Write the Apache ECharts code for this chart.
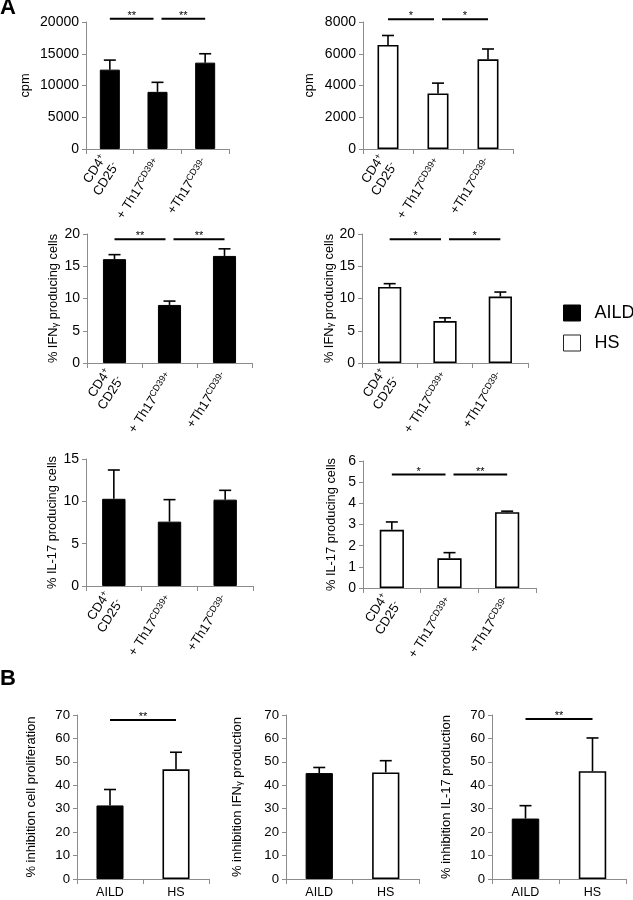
<!DOCTYPE html>
<html>
<head>
<meta charset="utf-8">
<script src="https://cdn.jsdelivr.net/npm/echarts@6/dist/echarts.min.js"></script>
<style>
  html, body { margin: 0; padding: 0; background: #fff; }
  #chart { width: 633px; height: 900px; }
</style>
</head>
<body>
<div id="chart"></div>
<script>
// ---------- data ----------
const catsA = ['CD4+ CD25-', '+ Th17 CD39+', '+Th17 CD39-'];
const catLabelsA = ['{n|CD4}{s|+}\n{n|CD25}{s|-}', '{n|+ Th17}{s|CD39+}', '{n|+Th17}{s|CD39-}'];
const catsB = ['AILD', 'HS'];

const cpmAILD = [12500, 9000, 13600];
const cpmAILDsd = [1500, 1500, 1400];
const cpmHS = [6550, 3500, 5650];
const cpmHSsd = [600, 650, 650];
const ifnAILD = [16.1, 9.0, 16.6];
const ifnAILDsd = [0.7, 0.6, 1.1];
const ifnHS = [11.8, 6.5, 10.3];
const ifnHSsd = [0.5, 0.5, 0.7];
const il17AILD = [10.3, 7.6, 10.2];
const il17AILDsd = [3.4, 2.6, 1.1];
const il17HS = [2.75, 1.4, 3.58];
const il17HSsd = [0.37, 0.27, 0.05];
const inhProlif = [31.4, 46.8];
const inhProlifSd = [6.8, 7.3];
const inhIFN = [45.2, 45.5];
const inhIFNsd = [2.4, 5.0];
const inhIL17 = [25.8, 46.0];
const inhIL17sd = [5.5, 14.2];

// significance brackets: [fromIndex, toIndex, mark]
const sigCpmAILD = [[0, 1, '**'], [1, 2, '**']];
const sigCpmHS = [[0, 1, '*'], [1, 2, '*']];
const sigIfnAILD = [[0, 1, '**'], [1, 2, '**']];
const sigIfnHS = [[0, 1, '*'], [1, 2, '*']];
const sigIl17AILD = [];
const sigIl17HS = [[0, 1, '*'], [1, 2, '**']];
const sigInhProlif = [[0, 1, '**']];
const sigInhIFN = [];
const sigInhIL17 = [[0, 1, '**']];

// ---------- layout ----------
const FONT = '"Liberation Sans", Arial, Helvetica, sans-serif';
const AXIS_COLOR = '#8c8c8c';

const panels = [
  { g: [86, 22, 143, 127], kind: 'A', max: 20000, step: 5000, v: cpmAILD, sd: cpmAILDsd, grp: 'AILD', yname: 'cpm', gap: 54, sig: sigCpmAILD, sigLevel: 20520 },
  { g: [363, 22, 150, 127], kind: 'A', max: 8000, step: 2000, v: cpmHS, sd: cpmHSsd, grp: 'HS', yname: 'cpm', gap: 47, sig: sigCpmHS, sigLevel: 8170 },
  { g: [87, 234, 165, 129], kind: 'A', max: 20, step: 5, v: ifnAILD, sd: ifnAILDsd, grp: 'AILD', yname: '% IFN{g|γ} producing cells', gap: 27, sig: sigIfnAILD, sigLevel: 19.2 },
  { g: [362, 234, 166, 129], kind: 'A', max: 20, step: 5, v: ifnHS, sd: ifnHSsd, grp: 'HS', yname: '% IFN{g|γ} producing cells', gap: 26, sig: sigIfnHS, sigLevel: 19.2 },
  { g: [86, 459, 167, 127], kind: 'A', max: 15, step: 5, v: il17AILD, sd: il17AILDsd, grp: 'AILD', yname: '% IL-17 producing cells', gap: 27, sig: sigIl17AILD, sigLevel: 0 },
  { g: [363, 461, 173, 127], kind: 'A', max: 6, step: 1, v: il17HS, sd: il17HSsd, grp: 'HS', yname: '% IL-17 producing cells', gap: 25, sig: sigIl17HS, sigLevel: 5.36 },
  { g: [77, 715, 132, 164], kind: 'B', max: 70, step: 10, v: inhProlif, sd: inhProlifSd, yname: '% inhibition cell proliferation', gap: 39, sig: sigInhProlif, sigLevel: 67.9 },
  { g: [286, 715, 133, 164], kind: 'B', max: 70, step: 10, v: inhIFN, sd: inhIFNsd, yname: '% inhibition IFN{g|γ} production', gap: 42, sig: sigInhIFN, sigLevel: 0 },
  { g: [492, 715, 134, 164], kind: 'B', max: 70, step: 10, v: inhIL17, sd: inhIL17sd, yname: '% inhibition IL-17 production', gap: 39, sig: sigInhIL17, sigLevel: 68.3 }
];

const grids = [], xAxes = [], yAxes = [], series = [];

panels.forEach((p, i) => {
  grids.push({ left: p.g[0], top: p.g[1], width: p.g[2], height: p.g[3], containLabel: false });
  const isA = p.kind === 'A';
  xAxes.push({
    type: 'category', gridIndex: i, data: isA ? catsA : catsB,
    axisLine: { lineStyle: { color: AXIS_COLOR, width: 1 } },
    axisTick: { show: true, length: 5, lineStyle: { color: AXIS_COLOR } },
    axisLabel: isA ? {
      interval: 0, rotate: 57, margin: 11, color: '#000',
      formatter: (val, idx) => catLabelsA[idx],
      rich: {
        n: { fontSize: 13, fontFamily: FONT, color: '#000', lineHeight: 15 },
        s: { fontSize: 9, fontFamily: FONT, color: '#000', verticalAlign: 'top', lineHeight: 9 }
      }
    } : {
      interval: 0, margin: 7, color: '#000', fontSize: 12.5, fontFamily: FONT
    }
  });
  yAxes.push({
    type: 'value', gridIndex: i, min: 0, max: p.max, interval: p.step,
    splitLine: { show: false },
    axisLine: { show: true, lineStyle: { color: AXIS_COLOR, width: 1 } },
    axisTick: { show: true, length: 4, lineStyle: { color: AXIS_COLOR } },
    axisLabel: { color: '#000', fontSize: isA ? 14 : 13.2, fontFamily: FONT, margin: 7, formatter: v => String(v) },
    name: p.yname, nameLocation: 'middle', nameRotate: 90, nameGap: p.gap,
    nameTextStyle: {
      color: '#000', fontSize: isA ? 12.8 : 13, fontFamily: FONT,
      rich: { g: { fontSize: 9.5, fontFamily: FONT, color: '#000', verticalAlign: 'bottom', lineHeight: 13 } }
    }
  });

  // bars
  if (isA) {
    const black = p.grp === 'AILD';
    series.push({
      type: 'bar', name: p.grp, xAxisIndex: i, yAxisIndex: i, barWidth: '42%',
      data: p.v,
      itemStyle: { color: black ? '#000' : '#fff', borderColor: '#000', borderWidth: black ? 1 : 1.6 },
      emphasis: { disabled: true }
    });
  } else {
    series.push({
      type: 'bar', name: 'inhibition' + i, xAxisIndex: i, yAxisIndex: i, barWidth: '41%',
      data: p.v.map((val, k) => ({
        value: val,
        itemStyle: { color: k === 0 ? '#000' : '#fff', borderColor: '#000', borderWidth: k === 0 ? 1 : 1.6 }
      })),
      emphasis: { disabled: true }
    });
  }

  // error bars (upper only)
  const sds = p.sd;
  series.push({
    type: 'custom', xAxisIndex: i, yAxisIndex: i, clip: false, silent: true, z: 3,
    data: p.v.map((val, k) => [k, val, val + sds[k]]),
    encode: { x: 0, y: [1, 2] },
    renderItem: function (params, api) {
      const b = api.coord([api.value(0), api.value(1)]);
      const t = api.coord([api.value(0), api.value(2)]);
      const hw = 6;
      return {
        type: 'group', children: [
          { type: 'line', shape: { x1: b[0], y1: b[1], x2: t[0], y2: t[1] }, style: { stroke: '#000', lineWidth: 1.6 } },
          { type: 'line', shape: { x1: t[0] - hw, y1: t[1], x2: t[0] + hw, y2: t[1] }, style: { stroke: '#000', lineWidth: 1.6 } }
        ]
      };
    }
  });

  // significance brackets
  if (p.sig.length) {
    const sig = p.sig;
    const touch = {};
    sig.forEach(s => { touch[s[0]] = (touch[s[0]] || 0) + 1; touch[s[1]] = (touch[s[1]] || 0) + 1; });
    series.push({
      type: 'custom', xAxisIndex: i, yAxisIndex: i, clip: false, silent: true, z: 3,
      data: sig.map(s => [s[0], s[1], p.sigLevel]),
      encode: { x: [0, 1], y: 2 },
      renderItem: function (params, api) {
        const s = sig[params.dataIndex];
        const a = api.coord([api.value(0), api.value(2)]);
        const b = api.coord([api.value(1), api.value(2)]);
        const x1 = a[0] + (touch[s[0]] > 1 ? 4 : 0);
        const x2 = b[0] - (touch[s[1]] > 1 ? 4 : 0);
        return {
          type: 'group', children: [
            { type: 'line', shape: { x1: x1, y1: a[1], x2: x2, y2: a[1] }, style: { stroke: '#000', lineWidth: 2 } },
            { type: 'text', x: (x1 + x2) / 2, y: a[1] - 3,
              style: { text: s[2], fontSize: 11, fontFamily: FONT, fill: '#000', align: 'center', verticalAlign: 'middle' } }
          ]
        };
      }
    });
  }
});

const chart = echarts.init(document.getElementById('chart'), null, { renderer: 'canvas' });
chart.setOption({
  animation: false,
  backgroundColor: '#fff',
  title: [
    { text: 'A', left: 0, top: -3, padding: 0, textStyle: { fontSize: 22, fontWeight: 'bold', fontFamily: FONT, color: '#000' } },
    { text: 'B', left: 0, top: 668, padding: 0, textStyle: { fontSize: 22, fontWeight: 'bold', fontFamily: FONT, color: '#000' } }
  ],
  legend: {
    left: 563, top: 304, padding: 0, orient: 'vertical', icon: 'rect', itemWidth: 17, itemHeight: 16, itemGap: 12,
    selectedMode: false,
    textStyle: { fontSize: 18, fontFamily: FONT, color: '#000', padding: [0, 0, 0, 9] },
    data: [
      { name: 'AILD', itemStyle: { color: '#000', borderColor: '#000', borderWidth: 1 } },
      { name: 'HS', itemStyle: { color: '#fff', borderColor: '#222', borderWidth: 1 } }
    ]
  },
  grid: grids,
  xAxis: xAxes,
  yAxis: yAxes,
  series: series
});
</script>
</body>
</html>
